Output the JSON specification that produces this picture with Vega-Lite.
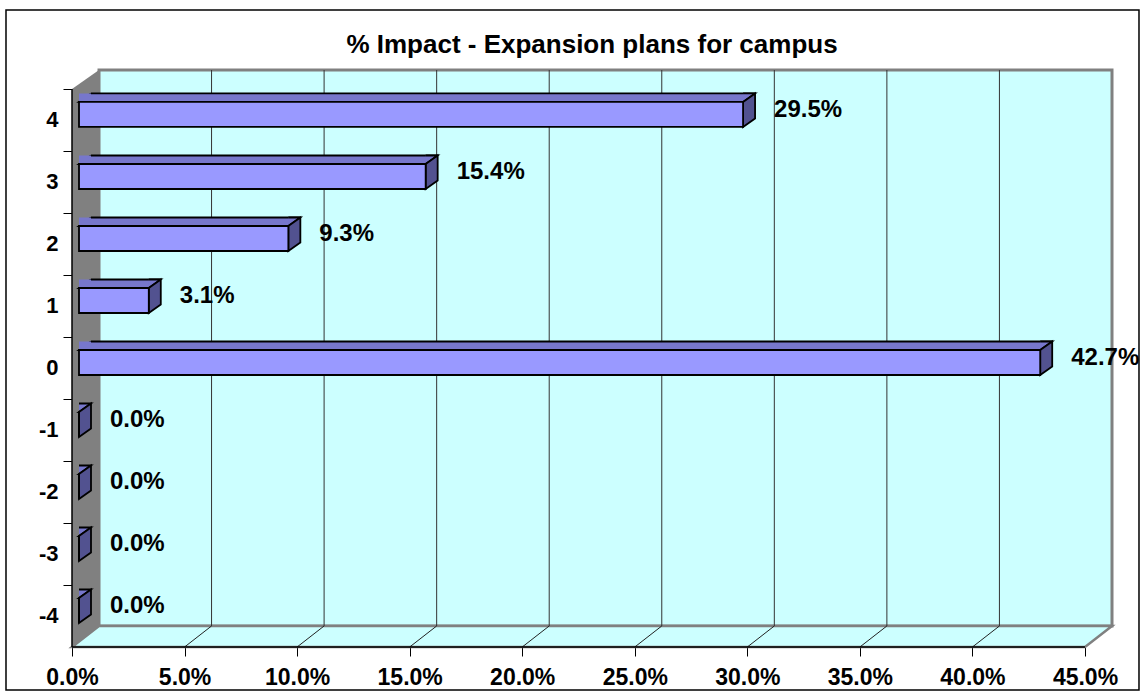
{
  "$schema": "https://vega.github.io/schema/vega-lite/v6.json",
  "width": 1040,
  "height": 577,
  "autosize": {"type": "none"},
  "padding": {"left": 72, "top": 70, "right": 33, "bottom": 49},
  "background": "white",
  "config": {"view": {"stroke": null}, "font": "Liberation Sans"},
  "title": {
    "text": "% Impact - Expansion plans for campus",
    "font": "Liberation Sans",
    "fontSize": 26,
    "fontWeight": "bold",
    "color": "black",
    "anchor": "middle",
    "frame": "group",
    "offset": -49
  },
  "datasets": {
    "bars": [
      {"cat": 4, "pct": 0.295},
      {"cat": 3, "pct": 0.154},
      {"cat": 2, "pct": 0.093},
      {"cat": 1, "pct": 0.031},
      {"cat": 0, "pct": 0.427},
      {"cat": -1, "pct": 0},
      {"cat": -2, "pct": 0},
      {"cat": -3, "pct": 0},
      {"cat": -4, "pct": 0}
    ],
    "grid": [
      {"t": 0.05}, {"t": 0.10}, {"t": 0.15}, {"t": 0.20},
      {"t": 0.25}, {"t": 0.30}, {"t": 0.35}, {"t": 0.40}
    ],
    "one": [{"k": 1}]
  },
  "layer": [
    {
      "data": {"name": "one"},
      "mark": {"type": "rect", "fill": "#CCFFFF", "stroke": "#808080", "strokeWidth": 3},
      "encoding": {
        "x": {"datum": 0.012, "type": "quantitative"},
        "x2": {"datum": 0.462, "type": "quantitative"},
        "y": {"datum": -4.161, "type": "quantitative"},
        "y2": {"datum": 4.806, "type": "quantitative"}
      }
    },
    {
      "data": {"name": "one"},
      "mark": {"type": "point", "shape": "M0,0L1013,0L1040,-21L27,-21Z", "size": 4, "filled": true, "fill": "#CCFFFF", "stroke": "#808080", "strokeWidth": 2.5, "opacity": 1},
      "encoding": {
        "x": {"datum": 0, "type": "quantitative"},
        "y": {"datum": -4.5, "type": "quantitative"}
      }
    },
    {
      "data": {"name": "one"},
      "mark": {"type": "point", "shape": "M0,0L0,-558L27,-577L27,-21Z", "size": 4, "filled": true, "fill": "#808080", "strokeWidth": 0, "opacity": 1},
      "encoding": {
        "x": {"datum": 0, "type": "quantitative"},
        "y": {"datum": -4.5, "type": "quantitative"}
      }
    },
    {
      "data": {"name": "grid"},
      "mark": {"type": "rule", "stroke": "#333333", "strokeWidth": 1, "xOffset": 27},
      "encoding": {
        "x": {"field": "t", "type": "quantitative"},
        "y": {"datum": -4.161, "type": "quantitative"},
        "y2": {"datum": 4.806, "type": "quantitative"}
      }
    },
    {
      "data": {"name": "grid"},
      "mark": {"type": "rule", "stroke": "#222222", "strokeWidth": 1, "x2Offset": 27},
      "encoding": {
        "x": {"field": "t", "type": "quantitative"},
        "x2": {"field": "t"},
        "y": {"datum": -4.5, "type": "quantitative"},
        "y2": {"datum": -4.161, "type": "quantitative"}
      }
    },
    {
      "data": {"name": "one"},
      "mark": {"type": "rule", "stroke": "black", "strokeWidth": 1.5},
      "encoding": {
        "x": {"datum": 0, "type": "quantitative"},
        "y": {"datum": -4.5, "type": "quantitative"},
        "y2": {"datum": 4.5, "type": "quantitative"}
      }
    },
    {
      "data": {"name": "one"},
      "mark": {"type": "rule", "stroke": "black", "strokeWidth": 1.5},
      "encoding": {
        "x": {"datum": 0, "type": "quantitative"},
        "x2": {"datum": 0.45, "type": "quantitative"},
        "y": {"datum": -4.5, "type": "quantitative"}
      }
    },
    {
      "data": {"name": "bars"},
      "mark": {"type": "point", "shape": "M19,-18L7,-18L19,-26.5", "size": 4, "filled": true, "fill": "#7777CC", "stroke": "black", "strokeWidth": 1.8, "opacity": 1},
      "encoding": {
        "x": {"datum": 0, "type": "quantitative"},
        "y": {"field": "cat", "type": "quantitative"}
      }
    },
    {
      "data": {"name": "bars"},
      "transform": [{"filter": "datum.pct > 0"}],
      "mark": {"type": "rect", "fill": "#7777CC", "strokeWidth": 0, "xOffset": 19, "x2Offset": 7, "yOffset": -26.5, "y2Offset": -18},
      "encoding": {
        "x": {"field": "pct", "type": "quantitative"},
        "x2": {"datum": 0, "type": "quantitative"},
        "y": {"field": "cat", "type": "quantitative"},
        "y2": {"field": "cat"}
      }
    },
    {
      "data": {"name": "bars"},
      "transform": [{"filter": "datum.pct > 0"}],
      "mark": {"type": "rule", "stroke": "black", "strokeWidth": 1.8, "xOffset": 19, "x2Offset": 19, "yOffset": -26.5, "y2Offset": -26.5},
      "encoding": {
        "x": {"field": "pct", "type": "quantitative"},
        "x2": {"datum": 0, "type": "quantitative"},
        "y": {"field": "cat", "type": "quantitative"},
        "y2": {"field": "cat"}
      }
    },
    {
      "data": {"name": "bars"},
      "mark": {"type": "point", "shape": "M7,-26.5L19,-26.5L7,-18", "size": 4, "filled": true, "fill": "#7777CC", "stroke": "black", "strokeWidth": 1.8, "opacity": 1},
      "encoding": {
        "x": {"field": "pct", "type": "quantitative"},
        "y": {"field": "cat", "type": "quantitative"}
      }
    },
    {
      "data": {"name": "bars"},
      "mark": {"type": "point", "shape": "M7,-18L19,-26.5L19,-1.5L7,7Z", "size": 4, "filled": true, "fill": "#525290", "stroke": "black", "strokeWidth": 1.8, "opacity": 1},
      "encoding": {
        "x": {"field": "pct", "type": "quantitative"},
        "y": {"field": "cat", "type": "quantitative"}
      }
    },
    {
      "data": {"name": "bars"},
      "mark": {"type": "rect", "fill": "#9999FF", "stroke": "black", "strokeWidth": 1.8, "xOffset": 7, "x2Offset": 7, "yOffset": -18, "y2Offset": 7},
      "encoding": {
        "x": {"field": "pct", "type": "quantitative"},
        "x2": {"datum": 0, "type": "quantitative"},
        "y": {"field": "cat", "type": "quantitative"},
        "y2": {"field": "cat"}
      }
    },
    {
      "data": {"name": "bars"},
      "mark": {"type": "text", "align": "left", "baseline": "middle", "dx": 38, "dy": -10, "font": "Liberation Sans", "fontSize": 24, "fontWeight": "bold", "color": "black"},
      "encoding": {
        "x": {
          "field": "pct", "type": "quantitative",
          "scale": {"domain": [0, 0.462], "nice": false, "zero": false},
          "axis": {
            "values": [0, 0.05, 0.1, 0.15, 0.2, 0.25, 0.3, 0.35, 0.4, 0.45],
            "format": ".1%", "domain": false, "grid": false, "title": null,
            "tickColor": "black", "tickSize": 9, "tickWidth": 1,
            "labelFont": "Liberation Sans", "labelFontSize": 23, "labelFontWeight": "bold",
            "labelColor": "black", "labelPadding": 10, "labelFlush": false, "labelOverlap": false
          }
        },
        "y": {
          "field": "cat", "type": "quantitative",
          "scale": {"domain": [-4.5, 4.806], "nice": false, "zero": false},
          "axis": {
            "values": [-4, -3, -2, -1, 0, 1, 2, 3, 4],
            "labelExpr": "toString(datum.value)",
            "tickOffset": -31, "labelOffset": 31,
            "domain": false, "grid": false, "title": null,
            "tickColor": "black", "tickSize": 9, "tickWidth": 1,
            "labelFont": "Liberation Sans", "labelFontSize": 22, "labelFontWeight": "bold",
            "labelColor": "black", "labelPadding": 5, "labelOverlap": false
          }
        },
        "text": {"field": "pct", "type": "quantitative", "format": ".1%"}
      }
    },
    {
      "data": {"name": "one"},
      "mark": {"type": "rect", "fill": "white", "fillOpacity": 0, "stroke": "black", "strokeWidth": 1.5},
      "encoding": {
        "x": {"datum": -0.02932, "type": "quantitative"},
        "x2": {"datum": 0.47399, "type": "quantitative"},
        "y": {"datum": 5.774, "type": "quantitative"},
        "y2": {"datum": -5.194, "type": "quantitative"}
      }
    }
  ]
}
